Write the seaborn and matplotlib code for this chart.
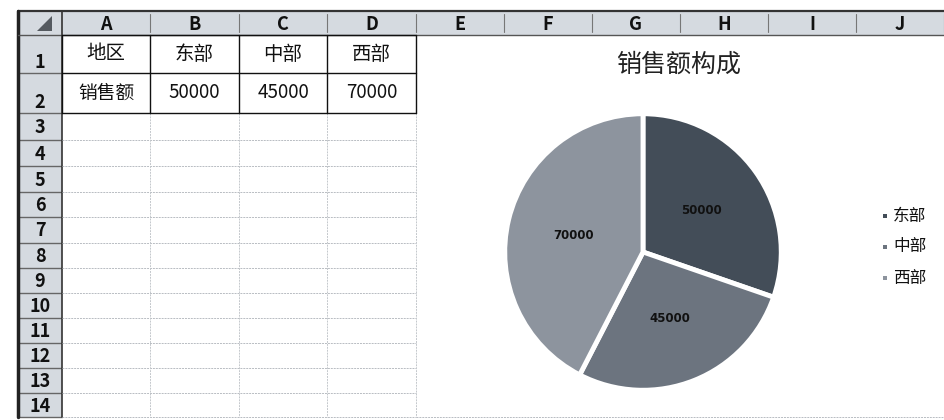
import matplotlib
matplotlib.use("Agg")
import matplotlib.pyplot as plt
import seaborn as sns
from matplotlib.patches import Rectangle, Polygon

sns.set_theme(style="white")
plt.rcParams['font.family'] = ['Noto Sans CJK SC', 'DejaVu Sans']

# data
regions = ["东部", "中部", "西部"]
sales = [50000, 45000, 70000]
row_label = "地区"
value_label = "销售额"
title = "销售额构成"
col_letters = ["A", "B", "C", "D", "E", "F", "G", "H", "I", "J"]
row_numbers = [str(i) for i in range(1, 15)]

slice_colors = ["#434d58", "#6c747f", "#8d949e"]
header_bg = "#d5dae0"

# sheet geometry in pixels
col_edges = [62, 150, 239, 327, 416, 504, 592, 680, 768, 856, 944]
row_edges = [35, 73, 113, 140, 166, 192, 217, 243, 268, 293, 318, 343, 368, 393, 417]
top, left = 11, 18

fig = plt.figure(figsize=(9.44, 4.2), dpi=100)
sheet = fig.add_axes([0, 0, 1, 1])
sheet.set_xlim(0, 944)
sheet.set_ylim(420, 0)
sheet.axis("off")

# header backgrounds
sheet.add_patch(Rectangle((left, top), 944 - left, row_edges[0] - top,
                          facecolor=header_bg, edgecolor="none"))
sheet.add_patch(Rectangle((left, top), col_edges[0] - left, row_edges[-1] - top,
                          facecolor=header_bg, edgecolor="none"))
sheet.add_patch(Polygon([[52, 16], [52, 31], [37, 31]], closed=True,
                        facecolor="#555a60", edgecolor="none"))

# column letters
for i, letter in enumerate(col_letters):
    xc = (col_edges[i] + col_edges[i + 1]) / 2
    sheet.text(xc, (top + row_edges[0]) / 2 + 1, letter, ha="center", va="center",
               fontsize=13, fontweight="bold", color="#111111")
    sheet.plot([col_edges[i + 1]] * 2, [top + 3, row_edges[0] - 3], color="#777777", lw=0.8)

# row numbers
for j, num in enumerate(row_numbers):
    y0, y1 = row_edges[j], row_edges[j + 1]
    va_y = y1 - 1 if j < 2 else (y0 + y1) / 2 + 1
    sheet.text(40, va_y, num, ha="center", va="bottom" if j < 2 else "center",
               fontsize=13, fontweight="bold", color="#111111")
    sheet.plot([left, col_edges[0]], [y1, y1], color="#666666", lw=1.0)

# sheet frame
sheet.plot([left, 944], [top, top], color="#333333", lw=1.6)
sheet.plot([left, left], [top, row_edges[-1]], color="#222222", lw=2.5)
sheet.plot([left, 944], [row_edges[0], row_edges[0]], color="#555555", lw=1.0)
sheet.plot([col_edges[0], col_edges[0]], [top, row_edges[-1]], color="#333333", lw=1.2)

# light dotted gridlines in the empty cells
for y in row_edges[3:]:
    sheet.plot([col_edges[0], col_edges[4]], [y, y], color="#b8bcc2", lw=0.7, ls=(0, (2, 1)))
for x in col_edges[1:5]:
    sheet.plot([x, x], [row_edges[2], row_edges[-1]], color="#c4c8cc", lw=0.7, ls=(0, (2, 1)))
sheet.plot([col_edges[4], 944], [row_edges[-1], row_edges[-1]], color="#b8bcc2",
           lw=0.7, ls=(0, (2, 1)))

# table A1:D2 with solid borders
for y in row_edges[:3]:
    sheet.plot([col_edges[0], col_edges[4]], [y, y], color="#111111", lw=1.0)
for x in col_edges[:5]:
    sheet.plot([x, x], [row_edges[0], row_edges[2]], color="#111111", lw=1.0)

row1 = [row_label] + regions
row2 = [value_label] + [str(v) for v in sales]
for i in range(4):
    xc = (col_edges[i] + col_edges[i + 1]) / 2
    sheet.text(xc, (row_edges[0] + row_edges[1]) / 2, row1[i], ha="center", va="center",
               fontsize=14, color="#111111")
    sheet.text(xc, (row_edges[1] + row_edges[2]) / 2, row2[i], ha="center", va="center",
               fontsize=13.5, color="#111111")

# chart title
sheet.text(679, 65, title, ha="center", va="center", fontsize=18, color="#222222")

# pie chart
cx, cy, r = 643, 252, 141
pie_ax = fig.add_axes([(cx - r) / 944, (420 - cy - r) / 420, 2 * r / 944, 2 * r / 420])
wedges, _, autotexts = pie_ax.pie(
    sales, colors=slice_colors, startangle=90, counterclock=False,
    autopct=lambda p: f"{p * sum(sales) / 100:.0f}", pctdistance=0.52,
    wedgeprops=dict(edgecolor="white", linewidth=3.5),
    textprops=dict(fontsize=8.5, fontweight="bold", color="#111111",
                   family=["DejaVu Sans"]))
pie_ax.set_xlim(-1.02, 1.02)
pie_ax.set_ylim(-1.02, 1.02)
pie_ax.set_aspect("equal")
pie_ax.axis("off")

# legend
for k, name in enumerate(regions):
    y = 216 + k * 31
    sheet.add_patch(Rectangle((883, y - 2), 4, 4, facecolor=slice_colors[k], edgecolor="none"))
    sheet.text(893, y, name, ha="left", va="center", fontsize=12, color="#111111")

fig.savefig("out.png", dpi=100)
